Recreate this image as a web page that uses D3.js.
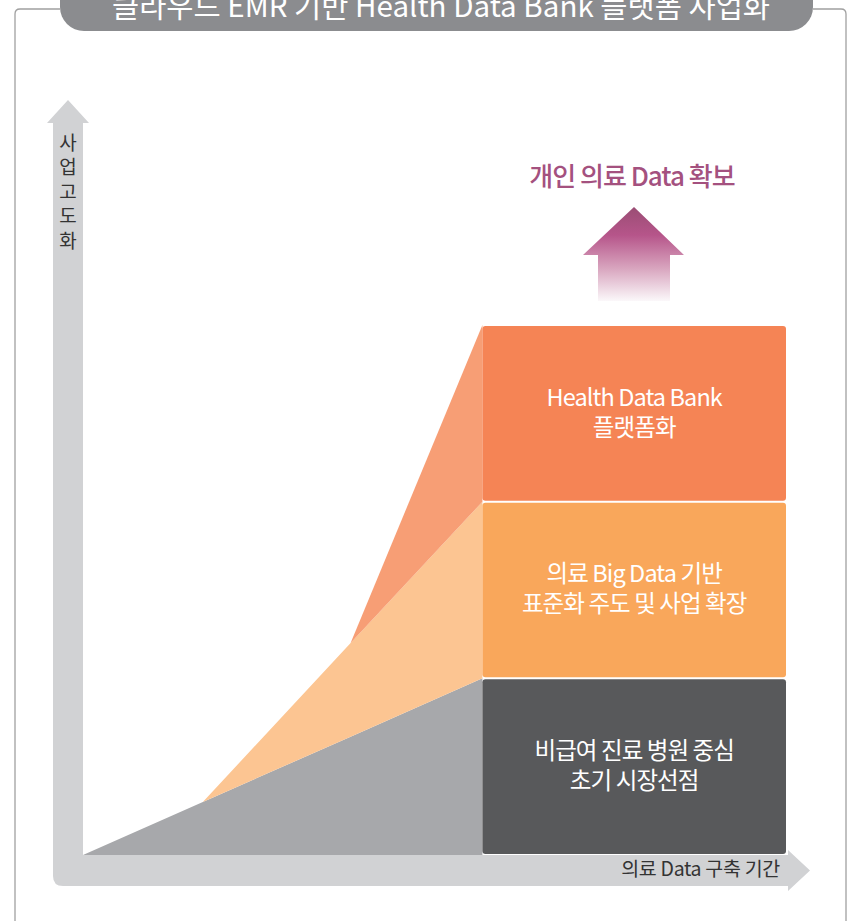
<!DOCTYPE html>
<html>
<head>
<meta charset="utf-8">
<script src="https://d3js.org/d3.v7.min.js"></script>
<style>
  body { margin: 0; background: #fff; }
  svg text { font-family: "Noto Sans CJK KR", "Noto Sans", sans-serif; }
</style>
</head>
<body>
<script>
// stage boxes, bottom to top
const stageNames = [
  ['비급여 진료 병원 중심', '초기 시장선점'],
  ['의료 Big Data 기반', '표준화 주도 및 사업 확장'],
  ['Health Data Bank', '플랫폼화']
];
const stageLevels = [0, 1, 2];

// growth curve: build-up period vs level reached
const periods  = [0, 3, 6.7, 10];
const level1   = [0, 0.3, 0.67, 1];
const level2   = [null, 0.3, 1.2, 2];
const level3   = [null, null, 1.2, 3];
const boxEnd   = 17.6;

const title = '클라우드 EMR 기반 Health Data Bank 플랫폼 사업화';
const yLabel = '사업고도화';
const xLabel = '의료 Data 구축 기간';
const goal = '개인 의료 Data 확보';

const width = 851, height = 921;
const svg = d3.select('body').append('svg')
  .attr('width', width).attr('height', height);

const x = d3.scaleLinear().domain([0, boxEnd]).range([83, 786]);
const y = d3.scaleLinear().domain([0, 3]).range([855, 325]);

// frame + title pill
svg.append('path')
  .attr('d', 'M60,9 L20,9 Q15,9 15,14 L15,921 M813,9 L841,9 Q846,9 846,14 L846,921')
  .attr('fill', 'none').attr('stroke', '#a0a0a0').attr('stroke-width', 1.3);
svg.append('rect')
  .attr('x', 60).attr('y', -30).attr('width', 753).attr('height', 61)
  .attr('rx', 24).attr('fill', '#8b8c8f');
svg.append('text')
  .attr('x', 441).attr('y', 17)
  .attr('text-anchor', 'middle')
  .attr('font-size', 30)
  .attr('fill', '#fff')
  .attr('textLength', 658).attr('lengthAdjust', 'spacingAndGlyphs')
  .text(title);

// axes arrow
svg.append('path')
  .attr('d', 'M53,123 L47,123 L68,100 L89,123 L83,123 L83,855 L788,855 L788,850 L810,870.5 L788,891 L788,886 L63,886 Q53,886 53,876 Z')
  .attr('fill', '#d1d2d4');

svg.append('g').selectAll('text')
  .data(yLabel.split(''))
  .join('text')
  .attr('x', 68).attr('y', (d, i) => 143 + i * 24.5)
  .attr('dy', '0.35em')
  .attr('text-anchor', 'middle')
  .attr('font-size', 19)
  .attr('fill', '#333')
  .text(d => d);

svg.append('text')
  .attr('x', 780).attr('y', 869)
  .attr('dy', '0.35em')
  .attr('text-anchor', 'end')
  .attr('font-size', 19.5)
  .attr('fill', '#333')
  .attr('letter-spacing', -0.3)
  .text(xLabel);

// stacked growth areas
const pts = periods.map((p, i) => ({p, a: level1[i], b: level2[i], c: level3[i]}));
const layers = [
  {lo: d => 0, hi: d => d.a, def: d => true, fill: '#a7a8ab'},
  {lo: d => d.a, hi: d => d.b, def: d => d.b != null, fill: '#fcc592'},
  {lo: d => d.b, hi: d => d.c, def: d => d.c != null, fill: '#f79e75'}
];
svg.append('g').selectAll('path')
  .data(layers)
  .join('path')
  .attr('d', l => d3.area()
    .defined(l.def)
    .x(d => x(d.p))
    .y0(d => y(l.lo(d)))
    .y1(d => y(l.hi(d)))(pts))
  .attr('fill', l => l.fill);

// stage boxes
const boxFill = ['#58595b', '#f9a75b', '#f58455'];
const boxes = svg.append('g').selectAll('g')
  .data(stageLevels)
  .join('g');
boxes.append('rect')
  .attr('x', x(10))
  .attr('y', d => y(d + 1) + 1)
  .attr('width', x(boxEnd) - x(10))
  .attr('height', d => y(d) - y(d + 1) - 2)
  .attr('rx', 3)
  .attr('fill', d => boxFill[d]);
boxes.each(function(d) {
  const cy = (y(d) + y(d + 1)) / 2;
  d3.select(this).selectAll('text')
    .data(stageNames[d])
    .join('text')
    .attr('x', (x(10) + x(boxEnd)) / 2)
    .attr('y', (t, i) => cy - 16 + i * 30)
    .attr('dy', '0.35em')
    .attr('text-anchor', 'middle')
    .attr('font-size', 23.5)
    .attr('letter-spacing', -0.9)
    .attr('fill', '#fff')
    .text(t => t);
});

// goal arrow
const defs = svg.append('defs');
const grad = defs.append('linearGradient')
  .attr('id', 'goalGrad').attr('x1', 0).attr('y1', 0).attr('x2', 0).attr('y2', 1);
grad.append('stop').attr('offset', '0%').attr('stop-color', '#9a4d74');
grad.append('stop').attr('offset', '30%').attr('stop-color', '#b6558a');
grad.append('stop').attr('offset', '65%').attr('stop-color', '#d8a4be');
grad.append('stop').attr('offset', '100%').attr('stop-color', '#fbf8fa');
svg.append('path')
  .attr('d', 'M634,207 L684,255 L670,255 L670,301 L598,301 L598,255 L583,255 Z')
  .attr('fill', 'url(#goalGrad)');

svg.append('text')
  .attr('x', 632).attr('y', 177)
  .attr('dy', '0.35em')
  .attr('text-anchor', 'middle')
  .attr('font-size', 26)
  .attr('font-weight', 500)
  .attr('letter-spacing', -1)
  .attr('fill', '#a4517f')
  .text(goal);
</script>
</body>
</html>
